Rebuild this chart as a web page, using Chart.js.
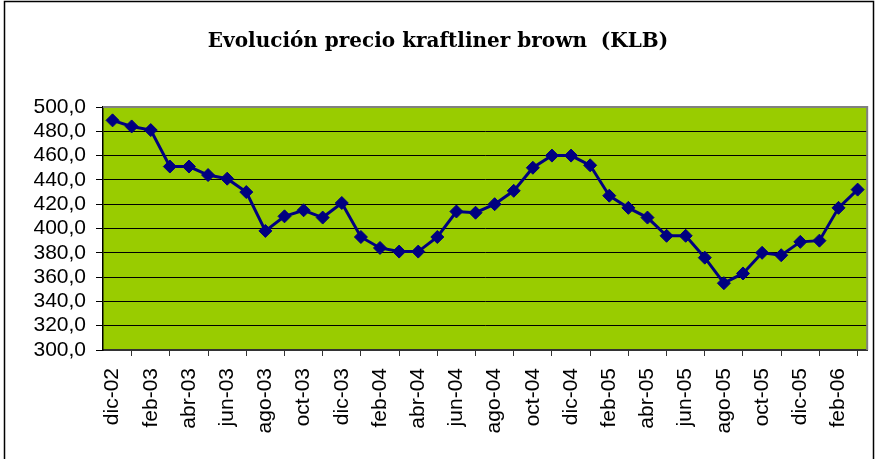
<!DOCTYPE html>
<html>
<head>
<meta charset="utf-8">
<script src="https://cdn.jsdelivr.net/npm/chart.js@4.4.1/dist/chart.umd.min.js"></script>
<style>
  body { margin: 0; background: #fff; }
</style>
</head>
<body>
<canvas id="klb-chart" width="876" height="459"></canvas>
<script>
const chartTitle = 'Evolución precio kraftliner brown  (KLB)';

const months = [
    'dic-02', 'ene-03', 'feb-03', 'mar-03', 'abr-03', 'may-03', 'jun-03', 'jul-03',
    'ago-03', 'sep-03', 'oct-03', 'nov-03', 'dic-03', 'ene-04', 'feb-04', 'mar-04',
    'abr-04', 'may-04', 'jun-04', 'jul-04', 'ago-04', 'sep-04', 'oct-04', 'nov-04',
    'dic-04', 'ene-05', 'feb-05', 'mar-05', 'abr-05', 'may-05', 'jun-05', 'jul-05',
    'ago-05', 'sep-05', 'oct-05', 'nov-05', 'dic-05', 'ene-06', 'feb-06', 'mar-06'
];

const prices = [
    489, 484, 481, 451, 451, 444, 441, 430,
    398, 410, 415, 409, 421, 393, 384, 381,
    381, 393, 414, 413, 420, 431, 450, 460,
    460, 452, 427, 417, 409, 394, 394, 376,
    355, 363, 380, 378, 389, 390, 417, 432
];

const yMin = 300;
const yMax = 500;
const yStep = 20;

const labelFont = { family: '"Liberation Sans", Arial, sans-serif', size: 21 };

// green plot area, grey frame and the outer chart border + title
const chartDecor = {
    id: 'chartDecor',
    beforeDraw(chart) {
        const { ctx, chartArea: a } = chart;
        ctx.save();
        ctx.fillStyle = '#fff';
        ctx.fillRect(0, 0, chart.width, chart.height);
        ctx.fillStyle = '#99CC00';
        ctx.fillRect(a.left, a.top, a.right - a.left, a.bottom - a.top);

        ctx.strokeStyle = '#000';
        ctx.lineWidth = 1.5;
        ctx.beginPath();
        ctx.moveTo(4.5, chart.height);
        ctx.lineTo(4.5, 1.5);
        ctx.lineTo(873.5, 1.5);
        ctx.lineTo(873.5, chart.height);
        ctx.stroke();

        // title squeezed to the same width as the original (~460px)
        ctx.fillStyle = '#000';
        const fam = '"Palatino Linotype", "Book Antiqua", "DejaVu Serif", serif';
        ctx.font = 'bold 20px ' + fam;
        const w = ctx.measureText(chartTitle).width;
        const size = Math.min(24, 20 * 460 / w);
        ctx.font = 'bold ' + size.toFixed(1) + 'px ' + fam;
        ctx.textAlign = 'center';
        ctx.textBaseline = 'alphabetic';
        ctx.fillText(chartTitle, 438, 47);
        ctx.restore();
    },
    beforeDatasetsDraw(chart) {
        const { ctx, chartArea: a } = chart;
        ctx.save();
        ctx.strokeStyle = '#808080';
        ctx.lineWidth = 2;
        ctx.beginPath();
        ctx.moveTo(a.left, a.top);
        ctx.lineTo(a.right, a.top);
        ctx.lineTo(a.right, a.bottom);
        ctx.stroke();
        ctx.restore();
    }
};

new Chart(document.getElementById('klb-chart'), {
    type: 'line',
    data: {
        labels: months,
        datasets: [{
            data: prices,
            borderColor: '#000080',
            backgroundColor: '#000080',
            borderWidth: 3,
            tension: 0,
            pointStyle: 'rectRot',
            pointRadius: 6.5,
            pointBorderWidth: 1,
            pointBackgroundColor: '#000080',
            pointBorderColor: '#000080'
        }]
    },
    options: {
        responsive: false,
        animation: false,
        layout: { padding: { top: 107, right: 6, left: 0, bottom: 0 } },
        plugins: {
            legend: { display: false },
            title: { display: false },
            tooltip: { enabled: false }
        },
        scales: {
            x: {
                offset: true,
                afterFit(scale) { scale.height = 109; },
                grid: {
                    offset: true,
                    drawOnChartArea: false,
                    drawTicks: true,
                    tickLength: 6,
                    color: '#333',
                    lineWidth: 1
                },
                border: { color: '#333', width: 2 },
                ticks: {
                    autoSkip: false,
                    maxRotation: 90,
                    minRotation: 90,
                    padding: 12,
                    color: '#000',
                    font: labelFont,
                    callback(value, index) {
                        return index % 2 === 0 ? months[index] : null;
                    }
                }
            },
            y: {
                min: yMin,
                max: yMax,
                afterFit(scale) { scale.width = 103; },
                grid: {
                    color: '#000',
                    lineWidth: 1,
                    tickLength: 7
                },
                border: { color: '#000', width: 1.5 },
                ticks: {
                    stepSize: yStep,
                    autoSkip: false,
                    padding: 10,
                    color: '#000',
                    font: labelFont,
                    callback: v => v.toFixed(1).replace('.', ',')
                }
            }
        }
    },
    plugins: [chartDecor]
});
</script>
</body>
</html>
